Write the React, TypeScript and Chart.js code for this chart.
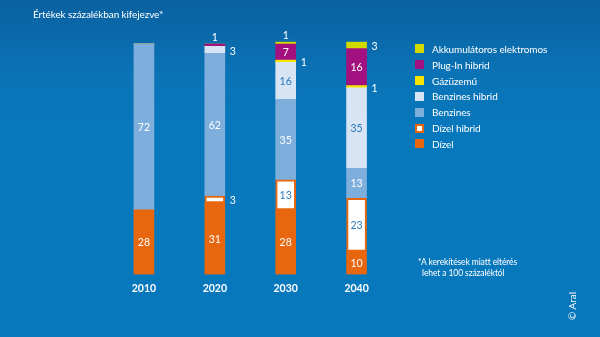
import React, { useEffect, useRef } from "react";
import { Chart, registerables } from "chart.js";

Chart.register(...registerables);

const years = ["2010", "2020", "2030", "2040"];
const seriesNames = [
  "Dízel",
  "Dízel hibrid",
  "Benzines",
  "Benzines hibrid",
  "Gázüzemű",
  "Plug-In hibrid",
  "Akkumulátoros elektromos",
];
const dizel = [28, 31, 28, 10];
const dizelHibrid = [0, 3, 13, 23];
const benzines = [72, 62, 35, 13];
const benzinesHibrid = [0, 3, 16, 35];
const gazuzemu = [0, 0, 1, 1];
const plugIn = [0, 1, 7, 16];
const akkumulatoros = [0, 0, 1, 3];

const titleText = "Értékek százalékban kifejezve*";
const noteLines = ["*A kerekítések miatt eltérés", "lehet a 100 százaléktól"];
const creditText = "© Aral";

const fills = ["#e8670e", "#ffffff", "#7eaedb", "#d6e4f4", "#f7e300", "#a2117f", "#d3da00"];
const borders = ["#e8670e", "#e8670e", "#7eaedb", "#d6e4f4", "#f7e300", "#a2117f", "#d3da00"];
const borderWidths = [0, 2, 0, 0, 0, 0, 0];
const labelColors = ["#ffffff", "#2a78bd", "#ffffff", "#2a78bd", "#ffffff", "#ffffff", "#ffffff"];

const FONT = "Lato, 'Open Sans', sans-serif";

const valuePlugin = {
  id: "segmentValues",
  afterDatasetsDraw(chart: any) {
    const ctx = chart.ctx;
    const dsCount = chart.data.datasets.length;
    ctx.save();
    ctx.font = `10.5px ${FONT}`;
    for (let i = 0; i < dsCount; i++) {
      const meta = chart.getDatasetMeta(i);
      const data = chart.data.datasets[i].data as number[];
      meta.data.forEach((bar: any, j: number) => {
        const v = data[j];
        if (!v) return;
        let isTop = true;
        for (let k = i + 1; k < dsCount; k++) {
          if ((chart.data.datasets[k].data as number[])[j]) isTop = false;
        }
        const { x, y, base, width } = bar.getProps(["x", "y", "base", "width"], true);
        const top = Math.min(y, base);
        const bottom = Math.max(y, base);
        const cy = (top + bottom) / 2;
        if (v < 2 && isTop) {
          ctx.fillStyle = "#ffffff";
          ctx.textAlign = "center";
          ctx.textBaseline = "bottom";
          ctx.fillText(String(v), x, top - 1);
        } else if (v <= 3) {
          ctx.fillStyle = "#ffffff";
          ctx.textAlign = "left";
          ctx.textBaseline = "middle";
          ctx.fillText(String(v), x + width / 2 + 5, cy + 1.5);
        } else {
          ctx.fillStyle = labelColors[i];
          ctx.textAlign = "center";
          ctx.textBaseline = "middle";
          ctx.fillText(String(v), x, cy + 0.5);
        }
      });
    }
    ctx.restore();
  },
};

export default function App() {
  const canvasRef = useRef<HTMLCanvasElement | null>(null);

  useEffect(() => {
    document.body.style.margin = "0";
    const values = [dizel, dizelHibrid, benzines, benzinesHibrid, gazuzemu, plugIn, akkumulatoros];
    const chart = new Chart(canvasRef.current as HTMLCanvasElement, {
      type: "bar",
      data: {
        labels: years,
        datasets: seriesNames.map((name, i) => ({
          label: name,
          data: values[i],
          backgroundColor: fills[i],
          borderColor: borders[i],
          borderWidth: borderWidths[i],
          borderSkipped: false,
          barThickness: 20,
        })),
      },
      options: {
        responsive: false,
        animation: false,
        layout: { padding: { left: 108.5, right: 208, top: 41.7, bottom: 34 } },
        plugins: {
          legend: { display: false },
          tooltip: { enabled: false },
          title: { display: false },
        },
        scales: {
          x: {
            stacked: true,
            offset: true,
            grid: { display: false, drawTicks: false },
            border: { display: false },
            ticks: {
              color: "#ffffff",
              padding: 8,
              font: { family: FONT, size: 10.5, weight: "bold" },
            },
          },
          y: {
            stacked: true,
            display: false,
            min: 0,
            max: 101,
          },
        },
      },
      plugins: [valuePlugin],
    });
    return () => chart.destroy();
  }, []);

  const legendOrder = [6, 5, 4, 3, 2, 1, 0];

  return (
    <div
      style={{
        position: "fixed",
        left: 0,
        top: 0,
        width: 600,
        height: 337,
        overflow: "hidden",
        background: "linear-gradient(180deg, #0a61a0 0%, #0a73b6 22%, #0878bd 40%, #0878bd 100%)",
        fontFamily: FONT,
        color: "#ffffff",
      }}
    >
      <canvas ref={canvasRef} width={600} height={337} style={{ position: "absolute", left: 0, top: 0 }} />
      <div style={{ position: "absolute", left: 33, top: 7, fontSize: 10, lineHeight: "14px", whiteSpace: "nowrap", letterSpacing: -0.1 }}>
        {titleText}
      </div>
      <div style={{ position: "absolute", left: 415, top: 41 }}>
        {legendOrder.map((i) => (
          <div key={i} style={{ display: "flex", alignItems: "center", height: 15.83, whiteSpace: "nowrap" }}>
            <span
              style={{
                display: "inline-block",
                boxSizing: "border-box",
                width: 9,
                height: 9,
                background: fills[i],
                border: borderWidths[i] ? `2px solid ${borders[i]}` : "none",
                marginRight: 8,
              }}
            />
            <span style={{ fontSize: 10, lineHeight: "14px", letterSpacing: -0.1 }}>{seriesNames[i]}</span>
          </div>
        ))}
      </div>
      <div style={{ position: "absolute", left: 418, top: 257, fontSize: 8.5, lineHeight: "10.7px", whiteSpace: "nowrap", letterSpacing: -0.1 }}>
        <div>{noteLines[0]}</div>
        <div style={{ paddingLeft: 4 }}>{noteLines[1]}</div>
      </div>
      <div
        style={{
          position: "absolute",
          left: 572,
          top: 305.5,
          fontSize: 10,
          lineHeight: "12px",
          whiteSpace: "nowrap",
          transform: "translate(-50%, -50%) rotate(-90deg)",
        }}
      >
        {creditText}
      </div>
    </div>
  );
}
